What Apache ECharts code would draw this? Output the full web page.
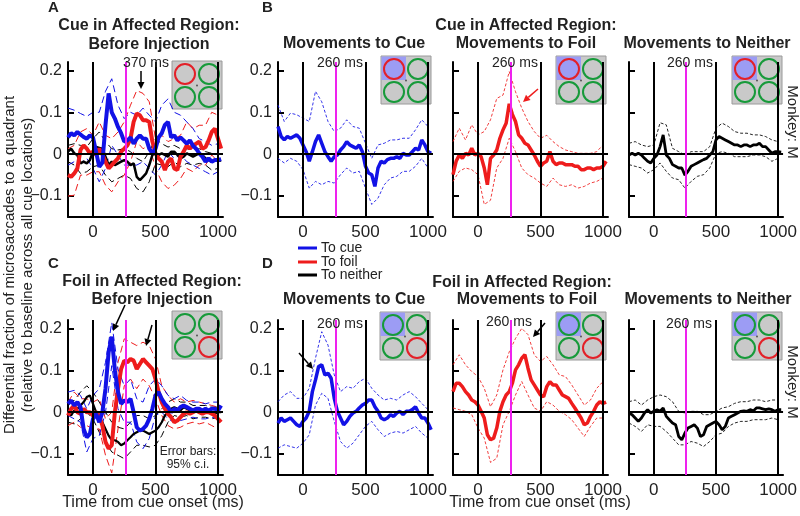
<!DOCTYPE html>
<html><head><meta charset="utf-8">
<script src="https://cdn.jsdelivr.net/npm/echarts@6/dist/echarts.min.js"></script>
<style>html,body{margin:0;padding:0;background:#fff}#c{width:800px;height:516px}</style>
</head><body><div id="c"></div>
<script>
// ---------- DATA ----------
const tMean = [-200,-175,-150,-125,-100,-75,-50,-25,0,25,50,75,100,125,150,175,200,225,250,275,300,325,350,375,400,425,450,475,500,525,550,575,600,625,650,675,700,725,750,775,800,825,850,875,900,925,950,975,1000,1025];
const tCI = [-200,-150,-100,-50,0,50,100,150,200,250,300,350,400,450,500,550,600,650,700,750,800,850,900,950,1000];
const xTicks = [0, 500, 1000];
const yTicks = [-0.1, 0, 0.1, 0.2];
const eventLines = [0, 500, 1000];
const markerTime = 260;

// Panel A: cue in affected region, before injection
const aBlue = [0.04,0.05,0.045,0.053,0.047,0.041,0.037,0.045,0.04,0.005,-0.03,-0.02,0.07,0.145,0.1,0.085,0.065,0.05,0.03,0.033,0.04,0.025,0.037,0.045,0.037,0.037,0.013,0.002,0.013,0.04,0.05,0.07,0.077,0.04,0.045,0.033,0.04,0.033,0.025,0.033,0.02,0.013,0.002,-0.006,-0.018,-0.01,-0.018,-0.014,-0.014,-0.012];
const aRed = [-0.05,-0.054,-0.046,-0.034,0.01,0.021,0.013,0.002,0.006,-0.002,0.013,0,-0.018,-0.034,-0.026,-0.018,-0.01,0.006,0.013,0.021,0.037,0.077,0.097,0.093,0.081,0.081,0.077,0.03,0.002,-0.01,-0.018,-0.038,-0.018,-0.01,-0.034,-0.038,-0.006,0.006,0.021,0.013,0.021,0.025,0.03,0.013,0.017,0.033,0.053,0.061,0.037,0.013];
const aBlack = [0.006,0.013,0.002,-0.002,-0.022,-0.018,-0.022,-0.014,0.006,0.017,0.015,0.013,-0.006,-0.026,-0.018,-0.026,-0.022,-0.018,-0.014,-0.018,-0.026,-0.022,-0.054,-0.062,-0.054,-0.046,-0.026,-0.002,0.002,-0.002,0.002,-0.002,-0.006,0.006,0.006,-0.002,-0.01,-0.006,0.002,-0.002,-0.006,-0.002,0.002,-0.002,-0.01,-0.014,-0.018,-0.014,-0.016,-0.015];
const aBlueHi = [0.11,0.105,0.097,0.09,0.1,0.1,0.15,0.18,0.117,0.085,0.1,0.093,0.11,0.093,0.077,0.117,0.132,0.1,0.093,0.077,0.061,0.037,0.03,0.021,0.025];
const aBlueLo = [-0.026,-0.018,-0.022,-0.01,-0.034,-0.066,-0.034,0.021,-0.002,-0.026,-0.026,-0.026,-0.018,-0.034,-0.05,-0.026,0.006,-0.01,0,-0.018,-0.026,-0.034,-0.042,-0.05,-0.042];
const aRedHi = [0.013,0.021,0.053,0.061,0.045,0.077,0.045,0.037,0.053,0.077,0.117,0.152,0.145,0.125,0.037,0.045,0.03,0.037,0.045,0.077,0.061,0.069,0.069,0.1,0.093];
const aRedLo = [-0.1,-0.098,-0.05,-0.05,-0.042,-0.042,-0.074,-0.09,-0.066,-0.05,-0.018,0.03,0.013,0.021,-0.034,-0.066,-0.082,-0.074,-0.058,-0.034,-0.042,-0.026,-0.026,-0.002,-0.018];
const aBlackHi = [0.021,0.025,0.021,0.017,0.037,0.053,0.03,0.013,0.01,0.013,0.006,-0.01,-0.018,0.006,0.037,0.025,0.017,0.021,0.013,0.013,0.01,0.013,0.006,0.002,0];
const aBlackLo = [-0.018,-0.026,-0.046,-0.042,-0.03,-0.026,-0.05,-0.066,-0.058,-0.05,-0.058,-0.082,-0.09,-0.066,-0.022,-0.026,-0.03,-0.018,-0.03,-0.022,-0.026,-0.022,-0.026,-0.038,-0.034];

// Panel C: foil in affected region, before injection
const cBlue = [0.02,0.028,0.016,0.024,0.012,-0.04,-0.06,-0.052,-0.016,-0.004,-0.024,0,0.056,0.143,0.18,0.1,0.048,0.02,0.028,0.024,0.032,0,-0.036,-0.044,-0.04,-0.032,-0.016,0.008,0.04,0.048,0.032,0.02,0.012,0,0.008,0.004,0.012,0.016,0.012,0.008,0.004,0.008,0.008,0.004,0.008,0.004,0.008,0.008,0.004,0.016];
const cRed = [-0.008,0.008,0.016,0,-0.004,0.008,0,0,-0.008,0,-0.008,-0.032,-0.071,-0.087,-0.079,0,0.056,0.103,0.123,0.119,0.127,0.123,0.103,0.115,0.127,0.119,0.111,0.103,0.079,0.048,0.024,0.008,-0.004,-0.012,-0.024,-0.02,-0.012,-0.004,0,-0.004,0,0.004,0,-0.004,0,0,-0.004,-0.008,-0.016,-0.024];
const cBlack = [0,-0.008,0.004,0.008,0.016,0.024,0.036,0.04,0.02,0,-0.016,-0.024,-0.04,-0.056,-0.067,-0.067,-0.071,-0.079,-0.075,-0.067,-0.06,-0.052,-0.048,-0.044,-0.044,-0.048,-0.052,-0.048,-0.044,-0.036,-0.024,-0.008,0,0.008,0.012,0.008,0.004,0.012,0.008,0.004,0,0.004,0,0,0.004,0,0,-0.004,0,0];
const cBlueHi = [0.048,0.052,0.04,0.008,0.04,0.056,0.119,0.214,0.103,0.063,0.079,0.032,0.024,0.063,0.079,0.063,0.04,0.032,0.04,0.028,0.024,0.024,0.02,0.024,0.024];
const cBlueLo = [-0.008,-0.016,-0.024,-0.095,-0.063,-0.056,0,0.111,0.008,-0.024,-0.024,-0.071,-0.087,-0.063,-0.008,0,-0.016,-0.024,-0.02,-0.016,-0.012,-0.016,-0.016,-0.012,-0.016];
const cRedHi = [0.024,0.048,0.032,0.032,0.024,0.032,-0.016,0,0.119,0.175,0.167,0.159,0.167,0.159,0.127,0.063,0.04,0.024,0.032,0.024,0.028,0.024,0.02,0.016,0.012];
const cRedLo = [-0.032,-0.024,-0.036,-0.032,-0.04,-0.04,-0.103,-0.145,-0.04,0.063,0.079,0.056,0.079,0.063,0.032,-0.008,-0.032,-0.04,-0.036,-0.028,-0.024,-0.028,-0.024,-0.032,-0.04];
const cBlackHi = [0.024,0.028,0.048,0.063,0.048,0.024,0,-0.024,-0.036,-0.04,-0.024,-0.008,-0.008,-0.016,-0.008,0.008,0.024,0.032,0.024,0.024,0.016,0.016,0.016,0.012,0.012];
const cBlackLo = [-0.024,-0.028,-0.016,0,-0.016,-0.048,-0.071,-0.095,-0.103,-0.111,-0.095,-0.079,-0.079,-0.083,-0.079,-0.056,-0.024,-0.008,-0.012,-0.008,-0.016,-0.012,-0.012,-0.016,-0.012];

// Panel B: cue in affected region (movements to cue / foil / neither)
const b1Blue = [0.066,0.042,0.034,0.042,0.038,0.042,0.046,0.038,0.022,0.006,-0.017,0.006,0.03,0.046,0.026,0.006,-0.006,-0.017,-0.006,-0.002,0.01,0.018,0.03,0.022,0.018,0.014,0.022,0.006,-0.029,-0.045,-0.049,-0.077,-0.033,-0.017,-0.021,-0.013,-0.01,-0.01,-0.006,-0.01,0.002,-0.002,-0.002,0.006,0.014,0.01,0.034,0.022,0.006,0.002];
const b1Hi = [0.117,0.078,0.098,0.094,0.086,0.078,0.15,0.125,0.078,0.054,0.062,0.082,0.066,0.062,0.026,-0.01,0.022,0.026,0.034,0.034,0.038,0.038,0.058,0.082,0.066];
const b1Lo = [-0.01,-0.021,-0.01,-0.017,-0.037,-0.081,-0.065,-0.073,-0.065,-0.069,-0.049,-0.033,-0.045,-0.041,-0.081,-0.12,-0.105,-0.073,-0.057,-0.053,-0.041,-0.041,-0.029,-0.01,-0.033];
const b2Red = [-0.049,-0.017,-0.002,-0.01,0.002,-0.002,0.014,-0.002,0.002,-0.006,-0.033,-0.073,-0.01,-0.002,0.01,0.038,0.058,0.074,0.12,0.095,0.078,0.046,0.038,0.026,0.022,0.01,-0.002,-0.017,-0.029,-0.021,-0.017,0.006,-0.017,-0.025,-0.021,-0.021,-0.025,-0.025,-0.025,-0.029,-0.029,-0.037,-0.037,-0.033,-0.033,-0.037,-0.033,-0.033,-0.029,-0.017];
const b2Hi = [0.03,0.062,0.034,0.07,0.046,0.054,0.082,0.133,0.141,0.197,0.149,0.11,0.078,0.054,0.038,0.045,0.03,0.018,0.01,0.006,0.002,0.002,0.002,0.006,0.022];
const b2Lo = [-0.065,-0.041,-0.033,-0.037,-0.049,-0.12,-0.11,-0.033,-0.01,0.038,0.006,-0.033,-0.049,-0.057,-0.069,-0.077,-0.057,-0.073,-0.077,-0.073,-0.081,-0.077,-0.069,-0.065,-0.057];
const b3Black = [-0.002,0.002,-0.002,0.002,-0.002,-0.01,-0.017,-0.021,-0.01,-0.002,0.018,0.046,-0.002,-0.01,-0.025,-0.029,-0.033,-0.033,-0.05,-0.041,-0.029,-0.025,-0.021,-0.017,-0.013,-0.01,-0.002,0.006,0.034,0.042,0.038,0.034,0.03,0.026,0.022,0.022,0.018,0.022,0.022,0.018,0.022,0.022,0.026,0.018,0.018,0.01,0.002,0.006,0.006,0.005];
const b3Hi = [0.026,0.03,0.022,0.018,0.022,0.075,0.07,0.014,0.006,-0.002,0.006,0.006,0.006,0.018,0.062,0.074,0.066,0.054,0.05,0.05,0.046,0.046,0.042,0.034,0.03];
const b3Lo = [-0.025,-0.029,-0.033,-0.045,-0.037,-0.021,-0.041,-0.057,-0.061,-0.081,-0.065,-0.053,-0.049,-0.033,0.002,0.006,0.002,-0.006,-0.006,-0.006,-0.002,-0.002,-0.006,-0.017,-0.01];

// Panel D: foil in affected region (movements to cue / foil / neither)
const d1Blue = [-0.026,-0.014,-0.022,-0.018,-0.014,-0.022,-0.03,-0.034,-0.022,-0.014,0.002,0.049,0.077,0.109,0.113,0.089,0.093,0.081,0.033,0.002,-0.014,-0.03,-0.022,-0.01,-0.002,0.002,0.01,0.017,0.021,0.029,0.029,0.013,0.002,-0.014,-0.018,-0.014,-0.006,-0.01,-0.002,0.002,-0.006,0.002,0.002,0.006,0.013,-0.002,-0.014,-0.014,-0.026,-0.042];
const d1Hi = [0.025,0.041,0.049,0.033,0.033,0.057,0.129,0.192,0.16,0.089,0.049,0.061,0.057,0.073,0.081,0.057,0.041,0.029,0.033,0.029,0.041,0.049,0.037,0.021,0.006];
const d1Lo = [-0.086,-0.078,-0.082,-0.086,-0.074,-0.054,0.017,0.045,0.033,-0.022,-0.07,-0.086,-0.074,-0.054,-0.034,-0.022,-0.042,-0.058,-0.05,-0.046,-0.05,-0.042,-0.034,-0.05,-0.062];
const d2Red = [0.049,0.069,0.069,0.061,0.049,0.041,0.029,0.025,0.017,0.002,-0.014,-0.054,-0.066,-0.062,-0.038,0.002,0.025,0.041,0.049,0.069,0.101,0.113,0.129,0.137,0.105,0.077,0.065,0.053,0.041,0.037,0.061,0.073,0.065,0.065,0.053,0.041,0.037,0.033,0.021,0.01,-0.002,-0.014,-0.03,-0.026,-0.01,0.002,0.017,0.025,0.021,0.024];
const d2Hi = [0.113,0.137,0.113,0.097,0.085,0.057,0.013,0.041,0.101,0.144,0.176,0.2,0.185,0.137,0.121,0.133,0.113,0.089,0.085,0.065,0.041,0.017,0.029,0.057,0.073];
const d2Lo = [0.01,0.006,0.002,-0.006,-0.038,-0.062,-0.12,-0.11,-0.03,0.002,0.041,0.073,0.041,0.01,0.002,0.025,0.017,0.002,-0.006,-0.018,-0.038,-0.058,-0.034,-0.014,-0.014];
const d3Black = [-0.002,-0.006,-0.014,-0.022,-0.014,-0.002,0.006,-0.002,0.002,0.006,0.002,0.01,-0.01,-0.018,-0.026,-0.03,-0.058,-0.066,-0.05,-0.038,-0.034,-0.03,-0.038,-0.058,-0.054,-0.034,-0.03,-0.026,-0.022,-0.03,-0.042,-0.034,-0.014,-0.01,-0.006,-0.002,0.002,0.003,0.002,0.006,0.003,0.01,0.01,0.008,0.006,0.008,0.006,0.002,0.006,0.006];
const d3Hi = [0.025,0.029,0.017,0.029,0.037,0.041,0.037,0.025,0.002,-0.002,0.002,0.002,-0.006,-0.006,0.002,0.01,0.013,0.021,0.025,0.025,0.029,0.029,0.025,0.029,0.029];
const d3Lo = [-0.026,-0.034,-0.046,-0.03,-0.034,-0.034,-0.046,-0.062,-0.078,-0.078,-0.07,-0.074,-0.082,-0.07,-0.054,-0.05,-0.034,-0.026,-0.022,-0.022,-0.018,-0.018,-0.018,-0.014,-0.018];

// ---------- STYLE / LAYOUT ----------
const FONT = "'Liberation Sans', Arial, Helvetica, sans-serif";
const BLUE = '#1212e6', RED = '#ee1c1c', BLACK = '#000000', MAG = '#ee22ee';
const TXT = '#222';
const gridLeft = [68, 278, 453, 629, 68, 278, 453, 629];
const gridTop = [62, 62, 62, 62, 320, 320, 320, 320];
const GW = 155, GH = 155;
const labelled = [true, true, false, false, true, true, false, false];

const panels = [
  {g:0, style:'long', lines:[{m:aBlack,u:aBlackHi,l:aBlackLo,c:BLACK,w:2.5},{m:aRed,u:aRedHi,l:aRedLo,c:RED,w:4},{m:aBlue,u:aBlueHi,l:aBlueLo,c:BLUE,w:4}]},
  {g:1, style:'fine', lines:[{m:b1Blue,u:b1Hi,l:b1Lo,c:BLUE,w:3.5}]},
  {g:2, style:'fine', lines:[{m:b2Red,u:b2Hi,l:b2Lo,c:RED,w:3.5}]},
  {g:3, style:'fine', lines:[{m:b3Black,u:b3Hi,l:b3Lo,c:BLACK,w:2.8}]},
  {g:4, style:'long', lines:[{m:cBlack,u:cBlackHi,l:cBlackLo,c:BLACK,w:2.2},{m:cRed,u:cRedHi,l:cRedLo,c:RED,w:4},{m:cBlue,u:cBlueHi,l:cBlueLo,c:BLUE,w:4}]},
  {g:5, style:'fine', lines:[{m:d1Blue,u:d1Hi,l:d1Lo,c:BLUE,w:3.5}]},
  {g:6, style:'fine', lines:[{m:d2Red,u:d2Hi,l:d2Lo,c:RED,w:3.5}]},
  {g:7, style:'fine', lines:[{m:d3Black,u:d3Hi,l:d3Lo,c:BLACK,w:2.8}]}
];

function pairs(xs, ys){ return ys.map((v,i)=>[xs[i], v]); }
const fmtY = v => (v < 0 ? '\u2212' + Math.abs(v) : String(v));
const fmtX = v => String(v);

const grid = [], xAxis = [], yAxis = [], series = [];
for (let i = 0; i < 8; i++) {
  grid.push({left: gridLeft[i], top: gridTop[i], width: GW, height: GH});
  xAxis.push({gridIndex:i, type:'value', min:-200, max:1040,
    axisLine:{show:true, onZero:false, lineStyle:{color:'#000', width:2}},
    axisTick:{show:false}, splitLine:{show:false},
    axisLabel:{customValues:xTicks, formatter:fmtX, fontSize:17, color:TXT, fontFamily:FONT, margin:7}});
  yAxis.push({gridIndex:i, type:'value', min:-0.15, max:0.22,
    axisLine:{show:true, onZero:false, lineStyle:{color:'#000', width:2}},
    axisTick:{show:true, inside:true, length:6, lineStyle:{color:'#000', width:2}, customValues:yTicks},
    splitLine:{show:false},
    axisLabel:{show:labelled[i], customValues:yTicks, formatter:fmtY, fontSize:16, color:TXT, fontFamily:FONT, margin:6}});
}

panels.forEach(p => {
  const dash = p.style === 'long' ? [7,4] : [3,2];
  p.lines.forEach((ln, k) => {
    [ln.u, ln.l].forEach((arr, j) => {
      const s = {type:'line', xAxisIndex:p.g, yAxisIndex:p.g, data:pairs(tCI, arr),
        symbol:'none', z:2, silent:true, animation:false,
        lineStyle:{color:ln.c, width:1, type:dash, opacity: p.style==='long'?1:0.85}};
      if (k === 0 && j === 0) {
        s.markLine = {silent:true, symbol:['none','none'], label:{show:false}, animation:false,
          lineStyle:{color:'#000', width:2, type:'solid'},
          data: eventLines.map(x => ({xAxis:x}))
            .concat([{yAxis:0}, {xAxis:markerTime, lineStyle:{color:MAG, width:2, type:'solid'}}])};
      }
      series.push(s);
    });
  });
  p.lines.forEach(ln => {
    series.push({type:'line', xAxisIndex:p.g, yAxisIndex:p.g, data:pairs(tMean, ln.m),
      symbol:'none', z:3, silent:true, animation:false,
      lineStyle:{color:ln.c, width:ln.w}});
  });
});

// ---------- GRAPHICS (text, insets, arrows) ----------
const G = [];
function txt(text, x, y, o){
  o = o || {};
  G.push({type:'text', x:x, y:y, rotation:o.rot||0, z:120,
    style:{text:text, x:0, y:0, fill:o.color||TXT,
      font:(o.bold?'bold ':'') + (o.size||15) + 'px ' + FONT,
      align:o.align||'center', textAlign:o.align||'center',
      verticalAlign:'middle', textVerticalAlign:'middle'}});
}
function inset(x, y, redIdx, blue){
  const ch = [{type:'rect', shape:{x:0,y:0,width:50,height:48}, style:{fill:'#c9c9c9', stroke:'#9a9a9a', lineWidth:1}}];
  if (blue) ch.push({type:'rect', shape:{x:0.5,y:0.5,width:24.5,height:23.5}, style:{fill:'#9c9cf4'}});
  const cs = [[13,13],[37,13],[13,36],[37,36]];
  cs.forEach((c, i) => ch.push({type:'circle', shape:{cx:c[0], cy:c[1], r:10}, style:{fill:'none', stroke: i===redIdx ? '#e32028' : '#179a3a', lineWidth:2}}));
  ch.push({type:'circle', shape:{cx:25, cy:24.5, r:1}, style:{fill:'#555'}});
  G.push({type:'group', x:x, y:y, z:110, children:ch});
}
function arrow(x1, y1, x2, y2, color){
  const a = Math.atan2(y2-y1, x2-x1), L = 7, W = 3.5;
  const bx = x2 - L*Math.cos(a), by = y2 - L*Math.sin(a);
  const px = -Math.sin(a), py = Math.cos(a);
  G.push({type:'line', z:115, shape:{x1:x1, y1:y1, x2:bx, y2:by}, style:{stroke:color, lineWidth:1.5}});
  G.push({type:'polygon', z:115, shape:{points:[[x2,y2],[bx+W*px,by+W*py],[bx-W*px,by-W*py]]}, style:{fill:color}});
}

// panel letters and titles
txt('A', 48, 8, {bold:true, size:15, align:'left'});
txt('B', 262, 8, {bold:true, size:15, align:'left'});
txt('C', 48, 264, {bold:true, size:15, align:'left'});
txt('D', 262, 264, {bold:true, size:15, align:'left'});
txt('Cue in Affected Region:', 149, 26, {bold:true, size:16});
txt('Before Injection', 149, 45, {bold:true, size:16});
txt('Cue in Affected Region:', 526, 26, {bold:true, size:16});
txt('Movements to Cue', 354, 44, {bold:true, size:16});
txt('Movements to Foil', 526, 44, {bold:true, size:16});
txt('Movements to Neither', 707, 44, {bold:true, size:16});
txt('Foil in Affected Region:', 152, 282, {bold:true, size:16});
txt('Before Injection', 152, 300, {bold:true, size:16});
txt('Foil in Affected Region:', 522, 283, {bold:true, size:16});
txt('Movements to Cue', 354, 300, {bold:true, size:16});
txt('Movements to Foil', 527, 300, {bold:true, size:16});
txt('Movements to Neither', 708, 300, {bold:true, size:16});

// axis titles
txt('Differential fraction of microsaccades to a quadrant', 10, 265, {rot:Math.PI/2, size:15});
txt('(relative to baseline across all cue locations)', 28, 265, {rot:Math.PI/2, size:15});
txt('Time from cue onset (ms)', 153, 503, {size:16});
txt('Time from cue onset (ms)', 540, 503, {size:16});
txt('Monkey: M', 792, 122, {rot:-Math.PI/2, size:15});
txt('Monkey: M', 792, 382, {rot:-Math.PI/2, size:15});

// annotations
txt('370 ms', 146, 63, {size:14});
txt('260 ms', 340, 63, {size:14});
txt('260 ms', 515, 63, {size:14});
txt('260 ms', 690, 63, {size:14});
txt('260 ms', 340, 324, {size:14});
txt('260 ms', 509, 322, {size:14});
txt('260 ms', 689, 324, {size:14});
txt('Error bars:', 188, 452, {size:12});
txt('95% c.i.', 188, 465, {size:12});

// legend
[['To cue', BLUE, 248], ['To foil', RED, 262], ['To neither', BLACK, 275]].forEach(l => {
  G.push({type:'line', z:115, shape:{x1:298, y1:l[2], x2:317, y2:l[2]}, style:{stroke:l[1], lineWidth:3}});
  txt(l[0], 321, l[2], {size:14, align:'left'});
});

// insets
inset(172, 61, 0, false);
inset(381, 56, 0, true);
inset(556, 56, 0, true);
inset(732, 56, 0, true);
inset(172, 311, 3, false);
inset(380, 312, 3, true);
inset(556, 312, 3, true);
inset(732, 312, 3, true);

// arrows
arrow(141, 71, 141, 89, '#000');
arrow(538, 89, 523, 102, RED);
arrow(125, 305, 113, 331, '#000');
arrow(152, 325, 146, 346, '#000');
arrow(299, 353, 313, 369, '#000');
arrow(545, 323, 533, 337, '#000');

const chart = echarts.init(document.getElementById('c'), null, {renderer:'canvas'});
chart.setOption({
  backgroundColor:'#fff', animation:false,
  textStyle:{fontFamily:FONT},
  grid:grid, xAxis:xAxis, yAxis:yAxis, series:series, graphic:G
});
</script></body></html>
